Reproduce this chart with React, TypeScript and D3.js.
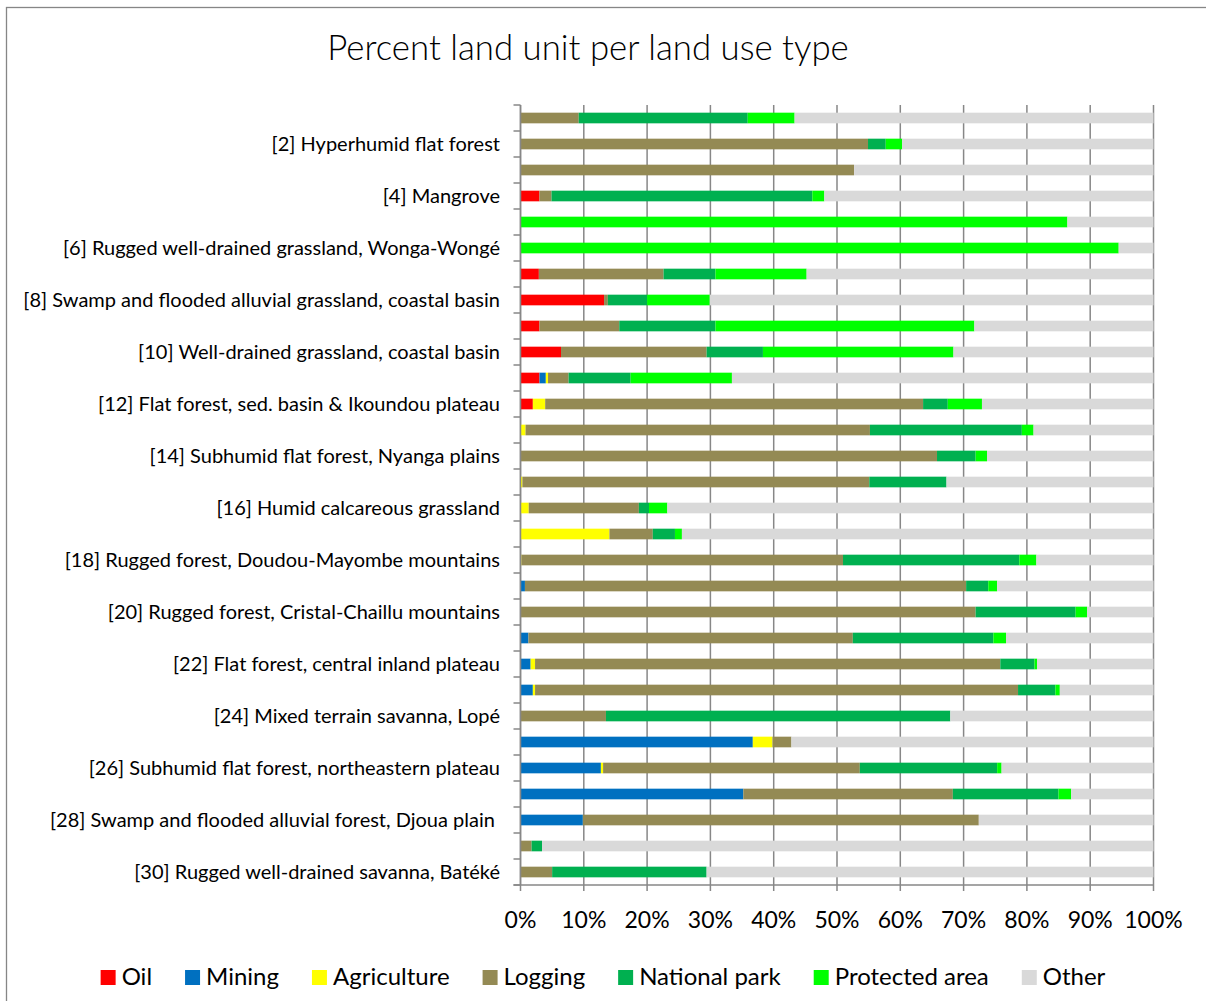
import React, { useEffect, useRef } from "react";
import * as d3 from "d3";

const W = 1206;
const H = 1001;

const rowIds = d3.range(1, 31);
const rowLabels: Record<number, string> = {
  2: "[2] Hyperhumid flat forest",
  4: "[4] Mangrove",
  6: "[6] Rugged well-drained grassland, Wonga-Wongé",
  8: "[8] Swamp and flooded alluvial grassland, coastal basin",
  10: "[10] Well-drained grassland, coastal basin",
  12: "[12] Flat forest, sed. basin & Ikoundou plateau",
  14: "[14] Subhumid flat forest, Nyanga plains",
  16: "[16] Humid calcareous grassland",
  18: "[18] Rugged forest, Doudou-Mayombe mountains",
  20: "[20] Rugged forest, Cristal-Chaillu mountains",
  22: "[22] Flat forest, central inland plateau",
  24: "[24] Mixed terrain savanna, Lopé",
  26: "[26] Subhumid flat forest, northeastern plateau",
  28: "[28] Swamp and flooded alluvial forest, Djoua plain ",
  30: "[30] Rugged well-drained savanna, Batéké",
};

const oil = [0, 0, 0, 3.0, 0, 0, 2.9, 13.2, 3.0, 6.4, 3.0, 1.95, 0, 0, 0, 0, 0, 0, 0, 0, 0, 0, 0, 0, 0, 0, 0, 0, 0, 0];
const mining = [0, 0, 0, 0, 0, 0, 0, 0, 0, 0, 1.0, 0, 0, 0, 0, 0, 0, 0, 0.7, 0, 1.25, 1.6, 1.95, 0, 36.7, 12.7, 35.2, 9.85, 0, 0];
const agriculture = [0, 0, 0, 0, 0, 0, 0, 0, 0, 0, 0.35, 1.95, 0.8, 0, 0.3, 1.3, 14.05, 0.15, 0, 0, 0, 0.7, 0.35, 0, 3.1, 0.35, 0, 0, 0, 0];
const logging = [9.2, 54.9, 52.7, 1.9, 0, 0, 19.7, 0.6, 12.6, 23.0, 3.25, 59.7, 54.4, 65.8, 54.8, 17.4, 6.85, 50.8, 69.7, 71.9, 51.25, 73.5, 76.3, 13.5, 3.0, 40.55, 33.1, 62.55, 1.75, 5.0];
const nationalPark = [26.7, 2.8, 0, 41.2, 0, 0, 8.2, 6.2, 15.2, 8.9, 9.8, 3.9, 24.0, 6.1, 12.2, 1.6, 3.5, 27.85, 3.5, 15.8, 22.2, 5.4, 5.9, 54.4, 0, 21.7, 16.7, 0, 1.65, 24.4];
const protectedArea = [7.4, 2.6, 0, 1.9, 86.4, 94.5, 14.4, 9.9, 40.9, 30.1, 16.0, 5.4, 1.85, 1.8, 0, 2.9, 1.1, 2.7, 1.4, 1.8, 2.0, 0.4, 0.7, 0, 0, 0.7, 2.0, 0, 0, 0];
const other = [56.7, 39.7, 47.3, 52.0, 13.6, 5.5, 54.8, 70.1, 28.3, 31.6, 66.6, 27.1, 18.95, 26.3, 32.7, 76.8, 74.5, 18.5, 24.7, 10.5, 23.3, 18.4, 14.8, 32.1, 57.2, 24.0, 13.0, 27.6, 96.6, 70.6];

const seriesNames = ["Oil", "Mining", "Agriculture", "Logging", "National park", "Protected area", "Other"];
const seriesValues = [oil, mining, agriculture, logging, nationalPark, protectedArea, other];
const seriesColors = ["#FF0000", "#0070C0", "#FFFF00", "#948A54", "#00B050", "#00FF00", "#D9D9D9"];

const xTicks = d3.range(0, 101, 10);

const FONT = "Lato, 'Open Sans', sans-serif";

export default function App() {
  const ref = useRef<SVGSVGElement | null>(null);

  useEffect(() => {
    const svg = d3.select(ref.current);
    svg.selectAll("*").remove();

    const x = d3.scaleLinear().domain([0, 100]).range([520.5, 1153.5]);
    const y = d3
      .scaleBand<number>()
      .domain(rowIds)
      .range([105, 885])
      .paddingInner(0.59)
      .paddingOuter(0.295);

    svg.append("rect").attr("x", 0).attr("y", 0).attr("width", W).attr("height", H).attr("fill", "#fff");
    svg
      .append("rect")
      .attr("x", 6.5)
      .attr("y", 7.5)
      .attr("width", W + 10)
      .attr("height", H + 10)
      .attr("fill", "none")
      .attr("stroke", "#868686")
      .attr("stroke-width", 1.3);

    svg
      .append("text")
      .attr("x", 588)
      .attr("y", 60)
      .attr("text-anchor", "middle")
      .attr("font-family", FONT)
      .attr("font-weight", 300)
      .attr("font-size", 34.8)
      .attr("fill", "#000")
      .text("Percent land unit per land use type");

    const grid = svg.append("g");
    grid
      .selectAll("line.g")
      .data(xTicks)
      .join("line")
      .attr("x1", (d) => x(d))
      .attr("x2", (d) => x(d))
      .attr("y1", 105)
      .attr("y2", 891)
      .attr("stroke", "#878787")
      .attr("stroke-width", 1.5);

    // stacked bars
    const table = rowIds.map((id, i) => {
      const o: Record<string, number> = { id };
      seriesNames.forEach((n, k) => (o[n] = seriesValues[k][i]));
      return o;
    });
    const stack = d3.stack<Record<string, number>>().keys(seriesNames)(table);
    const bars = svg.append("g");
    stack.forEach((layer, k) => {
      bars
        .append("g")
        .attr("fill", seriesColors[k])
        .selectAll("rect")
        .data(layer.filter((d) => d[1] - d[0] > 0))
        .join("rect")
        .attr("x", (d) => x(d[0]))
        .attr("width", (d) => x(d[1]) - x(d[0]))
        .attr("y", (d) => y(d.data.id as number)!)
        .attr("height", y.bandwidth());
    });

    // axes
    const ax = svg.append("g").attr("stroke", "#878787").attr("stroke-width", 1.5);
    ax.append("line").attr("x1", x(0)).attr("x2", x(0)).attr("y1", 105).attr("y2", 885);
    ax.append("line").attr("x1", x(0) - 7).attr("x2", x(100)).attr("y1", 885).attr("y2", 885);
    const boundaries = d3.range(0, 31).map((i) => 105 + i * y.step());
    ax.selectAll("line.yt")
      .data(boundaries)
      .join("line")
      .attr("x1", x(0) - 7)
      .attr("x2", x(0))
      .attr("y1", (d) => d)
      .attr("y2", (d) => d);

    // x tick labels
    svg
      .append("g")
      .selectAll("text")
      .data(xTicks)
      .join("text")
      .attr("x", (d) => x(d))
      .attr("y", 928)
      .attr("text-anchor", "middle")
      .attr("font-family", FONT)
      .attr("font-size", 23)
      .attr("fill", "#000")
      .text((d) => d + "%");

    // y labels
    svg
      .append("g")
      .selectAll("text")
      .data(rowIds.filter((id) => rowLabels[id]))
      .join("text")
      .attr("x", 500)
      .attr("y", (d) => y(d)! + y.bandwidth() / 2 + 7)
      .attr("text-anchor", "end")
      .attr("font-family", FONT)
      .attr("font-size", 20)
      .attr("fill", "#000")
      .style("white-space", "pre")
      .text((d) => rowLabels[d]);

    // legend
    const leg = svg.append("g");
    let cx = 0;
    seriesNames.forEach((n, k) => {
      const g = leg.append("g").attr("transform", `translate(${cx},0)`);
      g.append("rect").attr("x", 0).attr("y", 970).attr("width", 15).attr("height", 15).attr("fill", seriesColors[k]);
      const t = g
        .append("text")
        .attr("x", 21)
        .attr("y", 985)
        .attr("font-family", FONT)
        .attr("font-size", 24)
        .attr("fill", "#000")
        .text(n);
      const w = (t.node() as SVGTextElement).getComputedTextLength();
      cx += 21 + w + 33;
    });
    const total = cx - 33;
    leg.attr("transform", `translate(${603 - total / 2},0)`);
  }, []);

  return (
    <svg
      ref={ref}
      width={W}
      height={H}
      style={{ position: "absolute", left: 0, top: 0, display: "block" }}
    />
  );
}
